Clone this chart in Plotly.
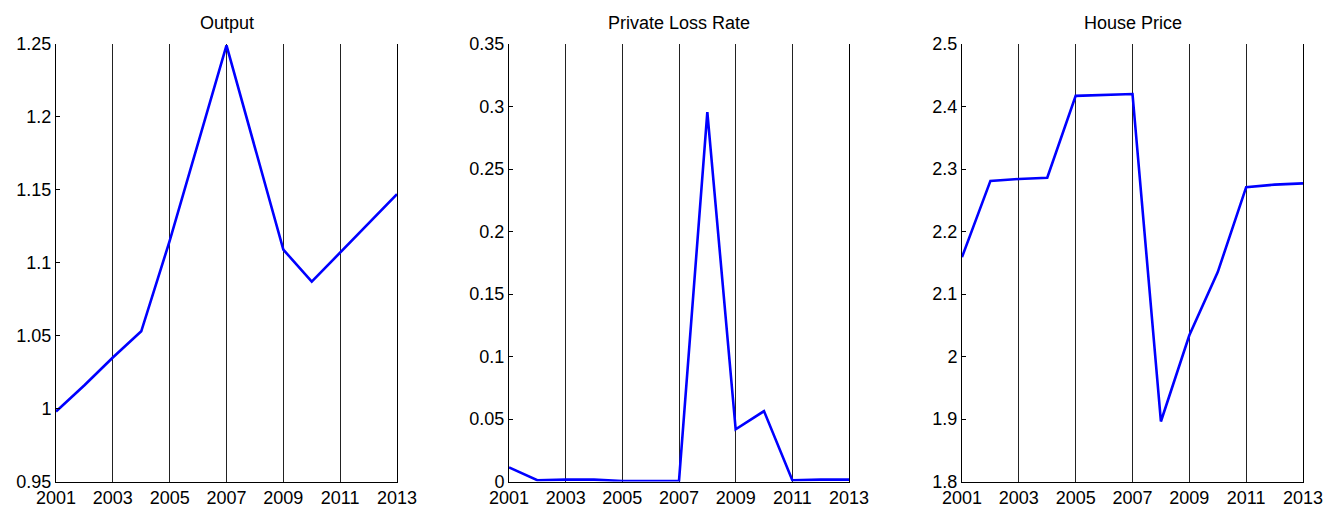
import plotly.graph_objects as go

# Annual series, 2001-2013
years = list(range(2001, 2014))

output = [0.998, 1.016, 1.035, 1.053, 1.115, 1.182, 1.249,
          1.179, 1.109, 1.087, 1.107, 1.127, 1.147]

private_loss_rate = [0.0113, 0.0010, 0.0015, 0.0015, 0.0003, 0.0003, 0.0005,
                     0.2955, 0.0418, 0.0563, 0.0010, 0.0015, 0.0015]

house_price = [2.159, 2.281, 2.284, 2.286, 2.417, 2.419, 2.420,
               1.896, 2.034, 2.135, 2.271, 2.275, 2.277]

titles = ["Output", "Private Loss Rate", "House Price"]
series = [output, private_loss_rate, house_price]

y_ranges = [[0.95, 1.25], [0.0, 0.35], [1.8, 2.5]]
y_ticks = [
    [0.95, 1.0, 1.05, 1.1, 1.15, 1.2, 1.25],
    [0, 0.05, 0.1, 0.15, 0.2, 0.25, 0.3, 0.35],
    [1.8, 1.9, 2.0, 2.1, 2.2, 2.3, 2.4, 2.5],
]
y_ticklabels = [
    ["0.95", "1", "1.05", "1.1", "1.15", "1.2", "1.25"],
    ["0", "0.05", "0.1", "0.15", "0.2", "0.25", "0.3", "0.35"],
    ["1.8", "1.9", "2", "2.1", "2.2", "2.3", "2.4", "2.5"],
]
x_ticks = [2001, 2003, 2005, 2007, 2009, 2011, 2013]

W, H = 1327, 508
FONT = "Liberation Sans, Arial, Helvetica, sans-serif"

# panel boxes in pixels (left, right), shared top/bottom
panels_px = [(56, 397), (509, 849), (962, 1303)]
top_px, bottom_px = 44, 481.5
y_domain = [(H - bottom_px) / H, (H - top_px) / H]

fig = go.Figure()
annotations = []
layout_axes = {}

for i, (name, vals) in enumerate(zip(titles, series)):
    n = "" if i == 0 else str(i + 1)
    fig.add_trace(go.Scatter(
        x=years, y=vals, mode="lines",
        line=dict(color="#0000ff", width=2.6),
        xaxis="x" + n, yaxis="y" + n, showlegend=False,
        hoverinfo="x+y",
    ))
    l, r = panels_px[i]
    layout_axes["xaxis" + n] = dict(
        domain=[l / W, r / W], anchor="y" + n, automargin=False,
        range=[2001, 2013], tickvals=x_ticks,
        ticktext=[str(t) for t in x_ticks],
        showgrid=True, gridcolor="#222222", gridwidth=1,
        showline=True, linecolor="black", linewidth=1,
        ticks="", zeroline=False, ticklabelstandoff=0,
        tickfont=dict(family=FONT, size=18, color="black"),
    )
    layout_axes["yaxis" + n] = dict(
        domain=y_domain, anchor="x" + n, automargin=False,
        range=y_ranges[i], tickvals=y_ticks[i], ticktext=y_ticklabels[i],
        showgrid=False, zeroline=False,
        showline=True, mirror=True, linecolor="black", linewidth=1,
        ticks="inside", ticklen=4, tickcolor="black", tickwidth=1,
        tickfont=dict(family=FONT, size=18, color="black"),
    )
    annotations.append(dict(
        text=name, xref="paper", yref="paper",
        x=(l + r) / 2 / W, y=(H - 23) / H,
        xanchor="center", yanchor="middle", showarrow=False,
        font=dict(family=FONT, size=18, color="black"),
    ))

fig.update_layout(
    width=W, height=H,
    margin=dict(l=0, r=0, t=0, b=0),
    paper_bgcolor="white", plot_bgcolor="white",
    annotations=annotations,
    **layout_axes,
)

fig.write_html("out.html", config={"displayModeBar": False})
